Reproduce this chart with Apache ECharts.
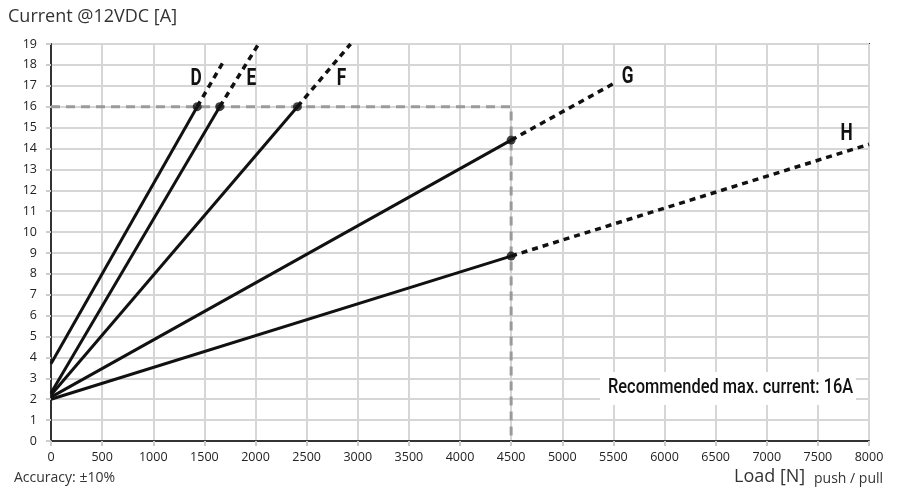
<!DOCTYPE html>
<html><head><meta charset="utf-8">
<script src="https://cdn.jsdelivr.net/npm/echarts@6/dist/echarts.min.js"></script>
<style>html,body{margin:0;padding:0;background:#fff}#c{width:900px;height:497px}</style>
</head><body><div id="c"></div>
<script>
const names = ['D','E','F','G','H'];
const startCurrent = [3.7, 2.3, 2.2, 2.1, 2.0];
const kneeLoad = [1430, 1650, 2410, 4500, 4500];
const kneeCurrent = [16, 16, 16, 14.4, 8.85];
const endLoad = [1680, 2030, 2930, 5500, 8000];
const endCurrent = [18.1, 19, 19, 17.1, 14.2];
const labelLoad = [1420, 1960, 2840, 5640, 7780];
const labelCurrent = [17.3, 17.3, 17.3, 17.4, 14.7];
const maxCurrent = 16;
const maxLoad = 4500;

const chart = echarts.init(document.getElementById('c'));
const series = [];
const font = "'Open Sans', 'Noto Sans', sans-serif";

series.push({
  type: 'line', silent: true, symbol: 'none', z: 1,
  data: [[0, maxCurrent], [maxLoad, maxCurrent], [maxLoad, 0]],
  lineStyle: { color: '#9a9a9a', width: 3, type: [9, 6] }
});
names.forEach((n, i) => {
  series.push({
    type: 'line', symbol: 'none', z: 3,
    data: [[0, startCurrent[i]], [kneeLoad[i], kneeCurrent[i]]],
    lineStyle: { color: '#111', width: 3 }
  });
  series.push({
    type: 'line', symbol: 'none', z: 3,
    data: [[kneeLoad[i], kneeCurrent[i]], [endLoad[i], endCurrent[i]]],
    lineStyle: { color: '#111', width: 3.5, type: [6, 5] }
  });
  series.push({
    type: 'scatter', symbolSize: 9, z: 4,
    data: [[kneeLoad[i], kneeCurrent[i]]],
    itemStyle: { color: '#111' }
  });
});
series.push({
  type: 'custom', z: 5,
  data: names.map((n, i) => [labelLoad[i], labelCurrent[i], n]),
  renderItem: function (params, api) {
    const p = api.coord([api.value(0), api.value(1)]);
    return {
      type: 'text', x: p[0], y: p[1], scaleX: 0.75,
      style: { text: names[params.dataIndex], font: "bold 23px 'Roboto', sans-serif",
        fill: '#111', align: 'center', verticalAlign: 'middle' }
    };
  }
});

chart.setOption({
  animation: false,
  grid: { left: 51, right: 31, top: 44, bottom: 56, show: true, borderColor: '#333', borderWidth: 2 },
  xAxis: {
    type: 'value', min: 0, max: 8000, interval: 500,
    axisLine: { show: true, lineStyle: { color: '#333', width: 2 } },
    axisTick: { show: true, length: 5, lineStyle: { color: '#ccc', width: 2 } },
    axisLabel: { color: '#222', fontFamily: font, fontSize: 12.5, margin: 10, formatter: v => String(v) },
    splitLine: { show: true, lineStyle: { color: '#d6d6d6', width: 2 } }
  },
  yAxis: {
    type: 'value', min: 0, max: 19, interval: 1,
    axisLine: { show: true, lineStyle: { color: '#333', width: 2 } },
    axisTick: { show: true, length: 5, lineStyle: { color: '#ccc', width: 2 } },
    axisLabel: { color: '#222', fontFamily: font, fontSize: 12.5, margin: 14 },
    splitLine: { show: true, lineStyle: { color: '#d6d6d6', width: 2 } }
  },
  graphic: [
    { type: 'text', left: 8, top: 8, style: { text: 'Current @12VDC [A]', font: "18px 'Open Sans', sans-serif", fill: '#333' } },
    { type: 'text', left: 14, top: 471, style: { text: 'Accuracy: ±10%', font: "14px 'Open Sans', sans-serif", fill: '#333' } },
    { type: 'text', left: 734, top: 468, style: { text: 'Load [N]', font: "18px 'Open Sans', sans-serif", fill: '#333' } },
    { type: 'text', left: 814, top: 472, style: { text: 'push / pull', font: "14px 'Open Sans', sans-serif", fill: '#333' } },
    { type: 'rect', shape: { x: 600, y: 372, width: 256, height: 33 }, style: { fill: '#fff' }, z: 10 },
    { type: 'text', x: 608, y: 388, scaleX: 0.8, z: 11, style: { text: 'Recommended max. current: 16A', font: "500 20.5px 'Roboto', sans-serif", fill: '#111', verticalAlign: 'middle' } }
  ],
  series: series
});
</script></body></html>
